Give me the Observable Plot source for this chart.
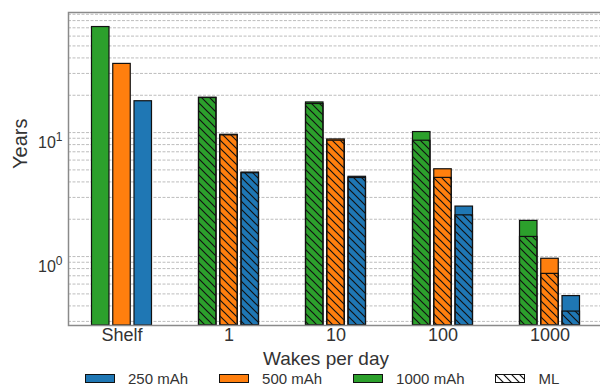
<!DOCTYPE html>
<html>
<head>
<meta charset="utf-8">
<script src="https://cdn.jsdelivr.net/npm/d3@7"></script>
<script src="https://cdn.jsdelivr.net/npm/@observablehq/plot@0.6"></script>
<style>
  html, body { margin: 0; padding: 0; background: #fff; }
  body { width: 600px; height: 388px; overflow: hidden; position: relative;
         font-family: "Liberation Sans", Arial, sans-serif; color: #333; }
  #chart svg { display: block; }
  #chart g[aria-label^="y-axis"] text { font-size: 16px; }
  #chart g[aria-label^="x-axis"] text { font-size: 18px; }
  #xlabel { position: absolute; left: 326px; top: 349px; transform: translateX(-50%);
            font-size: 19px; line-height: 19px; white-space: nowrap; }
  #legend { position: absolute; left: 85px; top: 371px; display: flex; align-items: center;
            font-size: 15px; line-height: 15px; white-space: nowrap; }
  #legend .item { display: flex; align-items: center; margin-right: 31px; }
  #legend .item:last-child { margin-right: 0; }
  #legend .sw { width: 28px; height: 7px; border: 1px solid #111; margin-right: 13px; }
</style>
</head>
<body>
<svg width="0" height="0" style="position:absolute">
  <defs>
    <pattern id="hatch" patternUnits="userSpaceOnUse" width="8" height="8">
      <path d="M0,0L8,8M-1,7L1,9M7,-1L9,1" stroke="#111" stroke-width="1.2" fill="none"/>
    </pattern>
  </defs>
</svg>
<div id="chart"></div>
<div id="xlabel">Wakes per day</div>
<div id="legend"></div>
<script>
// ---- data ----
const groups = ["Shelf", "1", "10", "100", "1000"];
const capacities = ["1000 mAh", "500 mAh", "250 mAh"];
const legendOrder = ["250 mAh", "500 mAh", "1000 mAh"];
const colors = ["#2ca02c", "#ff7f0e", "#1f77b4"];

const total1000 = [71, 19.1, 17.5, 10.1, 1.94];
const total500  = [35.8, 9.6, 8.8, 5.06, 0.96];
const total250  = [17.9, 4.76, 4.4, 2.53, 0.48];
const ml1000 = [null, 19.0, 17.0, 8.6, 1.44];
const ml500  = [null, 9.5, 8.6, 4.31, 0.725];
const ml250  = [null, 4.7, 4.3, 2.15, 0.36];

const gridTicks = [0.3, 0.4, 0.5, 0.6, 0.7, 0.8, 0.9, 1, 2, 3, 4, 5, 6, 7, 8, 9, 10, 20, 30, 40, 50, 60, 70, 80, 90];
const majorTicks = [1, 10];
const yDomain = [0.278, 93];

// ---- table ----
const totals = [total1000, total500, total250];
const mls = [ml1000, ml500, ml250];
const rows = groups.flatMap((g, i) => capacities.map((c, j) => ({
  group: g, capacity: c, total: totals[j][i], ml: mls[j][i]
})));

// bar placement inside each group band (style)
const insets = [[23.5, 66], [44.75, 44.75], [66, 23.5]];

const barMarks = capacities.flatMap((c, j) => {
  const d = rows.filter(r => r.capacity === c);
  const opts = { x: "group", insetLeft: insets[j][0], insetRight: insets[j][1], stroke: "#111", strokeWidth: 1.2 };
  return [
    Plot.barY(d, { ...opts, y1: () => yDomain[0], y2: "total", fill: "capacity" }),
    Plot.barY(d.filter(r => r.ml != null), { ...opts, y1: () => yDomain[0], y2: "ml", fill: "url(#hatch)" })
  ];
});

const chart = Plot.plot({
  width: 600,
  height: 345,
  marginLeft: 68,
  marginRight: -3,
  marginTop: 12,
  marginBottom: 20,
  style: { fontFamily: "Liberation Sans, Arial, sans-serif", fontSize: "18px", color: "#333", background: "#fff" },
  x: { domain: groups, padding: 0, tickSize: 0, tickPadding: 3, label: null },
  y: { type: "log", domain: yDomain, ticks: gridTicks, tickSize: 0, tickPadding: 6, label: null,
       tickFormat: d => majorTicks.includes(d) ? "10" + (d === 1 ? "⁰" : "¹") : "" },
  color: { domain: capacities, range: colors },
  marks: [
    Plot.ruleY(gridTicks, { stroke: "#bdbdbd", strokeWidth: 1, strokeDasharray: "3,1.5" }),
    ...barMarks,
    Plot.frame({ stroke: "#8a8a8a", strokeWidth: 1.5 }),
    Plot.text(["Years"], { frameAnchor: "left", dx: -48, rotate: -90, fontSize: 20, fill: "#333" })
  ]
});
document.getElementById("chart").appendChild(chart);

// superscript tick labels
d3.select(chart).selectAll("text").each(function () {
  const t = this.textContent;
  const m = /^10([⁰¹])$/.exec(t);
  if (!m) return;
  const exp = m[1] === "⁰" ? "0" : "1";
  const sel = d3.select(this);
  sel.text(null).attr("dy", "0.62em");
  sel.append("tspan").text("10");
  sel.append("tspan").attr("font-size", "12px").attr("dy", "-0.57em").text(exp);
});

// legend
const legend = d3.select("#legend");
legendOrder.forEach(name => {
  const it = legend.append("div").attr("class", "item");
  it.append("div").attr("class", "sw").style("background", colors[capacities.indexOf(name)]);
  it.append("span").text(name);
});
const ml = legend.append("div").attr("class", "item");
ml.append("svg").attr("width", 30).attr("height", 9).style("margin-right", "13px")
  .call(s => s.append("rect").attr("x", 0.5).attr("y", 0.5).attr("width", 29).attr("height", 8)
    .attr("fill", "url(#hatch)").attr("stroke", "#111"));
ml.append("span").text("ML");
</script>
</body>
</html>
